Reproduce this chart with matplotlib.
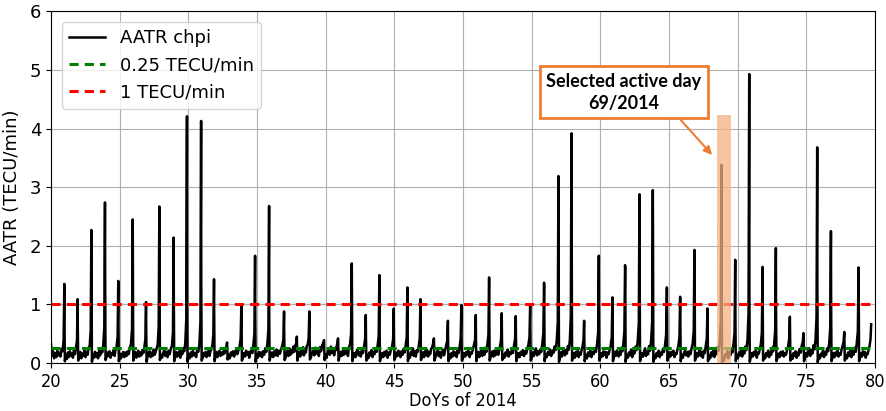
import matplotlib
matplotlib.use("Agg")
import matplotlib.pyplot as plt
from matplotlib import font_manager as fm
from matplotlib.patches import Rectangle
import numpy as np

# Daily AATR peaks (day of year of the peak, peak value, value just after the peak)
peak_doy = [20.97, 21.94, 22.94, 23.93, 24.90, 25.95, 26.92, 27.89, 28.93, 29.90,
            30.93, 31.87, 32.82, 33.86, 34.86, 35.88, 36.97, 37.90, 38.81, 39.88,
            40.90, 41.90, 42.92, 43.91, 44.96, 45.95, 46.90, 47.88, 48.90, 49.88,
            50.93, 51.90, 52.82, 53.84, 54.89, 55.90, 56.95, 57.90, 58.82, 59.89,
            60.88, 61.80, 62.85, 63.82, 64.84, 65.81, 66.85, 67.80, 68.82, 69.82,
            70.84, 71.81, 72.78, 73.80, 74.79, 75.79, 76.79, 77.76, 78.80]
peak_val = [1.35, 1.09, 2.27, 2.74, 1.40, 2.45, 1.04, 2.67, 2.14, 4.21,
            4.13, 1.43, 0.35, 0.99, 1.83, 2.68, 0.88, 0.45, 0.88, 0.39,
            0.42, 1.70, 0.82, 1.50, 0.93, 1.29, 1.09, 0.42, 0.72, 0.99,
            0.82, 1.46, 0.85, 0.80, 0.99, 1.37, 3.19, 3.92, 0.72, 1.83,
            1.12, 1.67, 2.88, 2.95, 1.29, 1.13, 1.93, 0.93, 3.38, 1.76,
            4.93, 1.64, 1.96, 0.79, 0.51, 3.68, 2.25, 0.53, 1.63]
shoulder_val = [0.70, 0.60, 1.30, 1.56, 0.70, 1.64, 0.60, 1.50, 1.20, 1.25,
                1.30, 0.85, 0.25, 0.78, 0.90, 0.73, 0.45, 0.30, 0.75, 0.30,
                0.35, 1.19, 0.50, 0.80, 0.50, 0.70, 0.60, 0.30, 0.40, 0.50,
                0.45, 0.90, 0.50, 0.50, 0.60, 1.30, 1.60, 2.27, 0.45, 1.00,
                0.70, 1.62, 1.50, 2.28, 1.25, 0.80, 1.85, 0.60, 1.20, 0.90,
                1.20, 1.00, 1.00, 0.60, 0.40, 1.30, 1.10, 0.40, 1.30]

# Quiet-time AATR between consecutive peaks (first row: start of the series,
# last row: after the final peak)
quiet_val = [
    [0.33, 0.12, 0.20, 0.08, 0.17, 0.10, 0.21, 0.13, 0.18, 0.11, 0.24, 0.20, 0.40],
    [0.03, 0.14, 0.07, 0.18, 0.10, 0.20, 0.12, 0.16, 0.09, 0.22, 0.15, 0.26, 0.38],
    [0.04, 0.11, 0.19, 0.08, 0.16, 0.12, 0.22, 0.10, 0.19, 0.14, 0.25, 0.29, 0.55],
    [0.02, 0.15, 0.09, 0.19, 0.11, 0.17, 0.08, 0.21, 0.13, 0.24, 0.18, 0.31, 0.60],
    [0.05, 0.10, 0.18, 0.12, 0.20, 0.09, 0.17, 0.14, 0.22, 0.12, 0.23, 0.28, 0.45],
    [0.03, 0.16, 0.08, 0.15, 0.19, 0.10, 0.18, 0.12, 0.20, 0.15, 0.26, 0.32, 0.58],
    [0.04, 0.12, 0.19, 0.09, 0.16, 0.21, 0.11, 0.18, 0.13, 0.22, 0.17, 0.27, 0.40],
    [0.02, 0.11, 0.17, 0.20, 0.10, 0.18, 0.12, 0.23, 0.14, 0.19, 0.25, 0.31, 0.62],
    [0.05, 0.14, 0.09, 0.17, 0.22, 0.12, 0.19, 0.10, 0.21, 0.15, 0.24, 0.29, 0.52],
    [0.03, 0.10, 0.19, 0.11, 0.16, 0.20, 0.09, 0.22, 0.15, 0.25, 0.20, 0.34, 0.75],
    [0.02, 0.15, 0.08, 0.18, 0.11, 0.21, 0.13, 0.17, 0.10, 0.23, 0.19, 0.31, 0.70],
    [0.04, 0.09, 0.17, 0.12, 0.19, 0.10, 0.16, 0.21, 0.12, 0.20, 0.24, 0.30, 0.48],
    [0.03, 0.13, 0.19, 0.10, 0.17, 0.21, 0.12, 0.18, 0.14, 0.20, 0.16, 0.23, 0.28],
    [0.06, 0.14, 0.08, 0.18, 0.13, 0.20, 0.11, 0.19, 0.24, 0.15, 0.22, 0.28, 0.42],
    [0.04, 0.10, 0.17, 0.11, 0.21, 0.14, 0.19, 0.09, 0.18, 0.22, 0.17, 0.31, 0.50],
    [0.02, 0.15, 0.09, 0.19, 0.12, 0.18, 0.10, 0.20, 0.14, 0.25, 0.19, 0.32, 0.58],
    [0.04, 0.13, 0.18, 0.10, 0.20, 0.13, 0.23, 0.12, 0.21, 0.16, 0.24, 0.29, 0.40],
    [0.05, 0.09, 0.16, 0.21, 0.12, 0.25, 0.14, 0.22, 0.17, 0.28, 0.19, 0.30, 0.33],
    [0.04, 0.14, 0.19, 0.11, 0.22, 0.15, 0.27, 0.13, 0.24, 0.18, 0.29, 0.31, 0.42],
    [0.06, 0.10, 0.18, 0.23, 0.13, 0.26, 0.16, 0.24, 0.12, 0.27, 0.20, 0.31, 0.34],
    [0.05, 0.15, 0.09, 0.20, 0.24, 0.14, 0.28, 0.17, 0.25, 0.13, 0.26, 0.22, 0.35],
    [0.04, 0.11, 0.19, 0.12, 0.21, 0.14, 0.25, 0.16, 0.22, 0.12, 0.27, 0.32, 0.50],
    [0.03, 0.12, 0.17, 0.10, 0.20, 0.24, 0.13, 0.18, 0.11, 0.22, 0.17, 0.29, 0.40],
    [0.04, 0.14, 0.08, 0.18, 0.13, 0.22, 0.10, 0.19, 0.15, 0.23, 0.19, 0.30, 0.46],
    [0.03, 0.11, 0.17, 0.10, 0.19, 0.13, 0.21, 0.09, 0.18, 0.14, 0.23, 0.28, 0.40],
    [0.05, 0.09, 0.18, 0.12, 0.21, 0.15, 0.10, 0.20, 0.14, 0.24, 0.18, 0.30, 0.44],
    [0.03, 0.15, 0.09, 0.19, 0.14, 0.25, 0.12, 0.20, 0.11, 0.22, 0.19, 0.29, 0.42],
    [0.05, 0.13, 0.18, 0.10, 0.20, 0.13, 0.22, 0.11, 0.19, 0.15, 0.24, 0.27, 0.34],
    [0.04, 0.10, 0.16, 0.21, 0.12, 0.19, 0.09, 0.17, 0.23, 0.13, 0.21, 0.30, 0.38],
    [0.03, 0.14, 0.08, 0.17, 0.11, 0.20, 0.13, 0.18, 0.10, 0.22, 0.17, 0.28, 0.42],
    [0.04, 0.09, 0.17, 0.11, 0.19, 0.14, 0.21, 0.10, 0.18, 0.16, 0.24, 0.31, 0.40],
    [0.03, 0.13, 0.19, 0.10, 0.18, 0.22, 0.12, 0.20, 0.14, 0.26, 0.19, 0.32, 0.48],
    [0.04, 0.10, 0.16, 0.20, 0.11, 0.21, 0.13, 0.18, 0.25, 0.14, 0.22, 0.29, 0.40],
    [0.05, 0.14, 0.09, 0.18, 0.13, 0.23, 0.11, 0.19, 0.15, 0.21, 0.17, 0.30, 0.40],
    [0.03, 0.11, 0.17, 0.10, 0.19, 0.14, 0.22, 0.12, 0.20, 0.16, 0.24, 0.31, 0.44],
    [0.04, 0.09, 0.18, 0.12, 0.21, 0.25, 0.13, 0.20, 0.15, 0.23, 0.19, 0.33, 0.50],
    [0.03, 0.15, 0.10, 0.19, 0.14, 0.23, 0.12, 0.21, 0.17, 0.28, 0.22, 0.37, 0.70],
    [0.02, 0.11, 0.18, 0.11, 0.20, 0.24, 0.13, 0.22, 0.16, 0.29, 0.23, 0.39, 0.80],
    [0.04, 0.12, 0.17, 0.09, 0.19, 0.13, 0.21, 0.10, 0.18, 0.14, 0.22, 0.28, 0.38],
    [0.03, 0.14, 0.08, 0.18, 0.12, 0.21, 0.10, 0.19, 0.15, 0.25, 0.19, 0.32, 0.52],
    [0.04, 0.10, 0.17, 0.11, 0.20, 0.14, 0.19, 0.09, 0.18, 0.15, 0.23, 0.30, 0.44],
    [0.03, 0.13, 0.19, 0.12, 0.21, 0.16, 0.11, 0.20, 0.14, 0.26, 0.20, 0.34, 0.55],
    [0.02, 0.14, 0.09, 0.18, 0.13, 0.23, 0.10, 0.21, 0.16, 0.28, 0.22, 0.37, 0.68],
    [0.03, 0.10, 0.17, 0.11, 0.20, 0.25, 0.12, 0.19, 0.15, 0.29, 0.21, 0.38, 0.70],
    [0.02, 0.13, 0.08, 0.17, 0.12, 0.21, 0.10, 0.18, 0.14, 0.24, 0.19, 0.31, 0.48],
    [0.04, 0.09, 0.18, 0.11, 0.19, 0.14, 0.21, 0.10, 0.17, 0.15, 0.23, 0.30, 0.44],
    [0.03, 0.14, 0.09, 0.17, 0.21, 0.13, 0.19, 0.11, 0.20, 0.15, 0.25, 0.33, 0.55],
    [0.04, 0.10, 0.17, 0.11, 0.19, 0.23, 0.12, 0.18, 0.09, 0.21, 0.17, 0.29, 0.42],
    [0.03, 0.13, 0.08, 0.18, 0.12, 0.22, 0.10, 0.20, 0.15, 0.27, 0.21, 0.35, 0.72],
    [0.01, 0.09, 0.04, 0.15, 0.11, 0.20, 0.08, 0.19, 0.13, 0.24, 0.18, 0.32, 0.52],
    [0.03, 0.14, 0.08, 0.18, 0.13, 0.23, 0.11, 0.21, 0.16, 0.28, 0.22, 0.39, 0.85],
    [0.02, 0.10, 0.17, 0.11, 0.19, 0.14, 0.21, 0.09, 0.18, 0.16, 0.24, 0.32, 0.52],
    [0.04, 0.13, 0.08, 0.17, 0.12, 0.21, 0.10, 0.19, 0.14, 0.26, 0.20, 0.33, 0.55],
    [0.03, 0.09, 0.16, 0.10, 0.19, 0.13, 0.20, 0.11, 0.17, 0.14, 0.22, 0.28, 0.42],
    [0.04, 0.13, 0.07, 0.17, 0.12, 0.20, 0.09, 0.18, 0.13, 0.24, 0.18, 0.30, 0.36],
    [0.03, 0.10, 0.17, 0.11, 0.20, 0.25, 0.12, 0.22, 0.16, 0.30, 0.23, 0.39, 0.78],
    [0.01, 0.13, 0.08, 0.16, 0.12, 0.21, 0.10, 0.19, 0.14, 0.25, 0.20, 0.34, 0.60],
    [0.03, 0.09, 0.17, 0.10, 0.18, 0.13, 0.21, 0.11, 0.16, 0.14, 0.23, 0.29, 0.36],
    [0.04, 0.13, 0.08, 0.18, 0.12, 0.22, 0.10, 0.20, 0.14, 0.26, 0.19, 0.34, 0.55],
    [0.03, 0.10, 0.17, 0.11, 0.20, 0.14, 0.19, 0.09, 0.17, 0.15, 0.23, 0.29, 0.40],
]
series_start = 20.0
series_end = 79.72
series_end_val = 0.66

thresholds = [0.25, 1.0]
selected_day = [68.53, 69.53]
selected_top = 4.23

# Assemble the time series: quiet stretch, then rise to the peak and drop
t, v = [], []
bounds = [series_start] + peak_doy + [series_end]
for i, row in enumerate(quiet_val):
    t0 = bounds[i] if i == 0 else bounds[i] + 0.04
    t1 = bounds[i + 1] - 0.05
    t.extend(np.linspace(t0, t1, len(row)))
    v.extend(row)
    if i < len(peak_doy):
        t.extend([peak_doy[i], peak_doy[i] + 0.012])
        v.extend([peak_val[i], shoulder_val[i]])
t.append(series_end)
v.append(series_end_val)


def narrow_font(size):
    """Pick an installed condensed/narrow sans face for the x-axis texts."""
    best = None
    for f in fm.fontManager.ttflist:
        name = f.name.lower()
        fname = f.fname.lower()
        narrow = ("narrow" in name or "condensed" in name or "narrow" in fname
                  or "condensed" in fname or str(f.stretch).endswith("condensed"))
        if not narrow or f.style != "normal":
            continue
        w = f.weight if isinstance(f.weight, int) else 400
        if w != 400:
            continue
        rank = 0 if "liberation" in name else (1 if "dejavu" in name else 2)
        if best is None or rank < best[0]:
            best = (rank, f.fname)
    if best is None:
        return fm.FontProperties(family="DejaVu Sans", size=size)
    return fm.FontProperties(fname=best[1], size=size)


fig = plt.figure(figsize=(8.87, 4.11), dpi=100)
ax = fig.add_axes([0.0575, 0.1168, 0.929, 0.8555])

ax.plot(t, v, color="black", lw=1.8, label="AATR chpi", zorder=3)
ax.plot([series_start, series_end], [thresholds[0]] * 2, color="green", lw=2.2,
        dashes=(3, 2), label="0.25 TECU/min", zorder=4)
ax.plot([series_start, series_end], [thresholds[1]] * 2, color="red", lw=2.2,
        dashes=(3, 2), label="1 TECU/min", zorder=4)

ax.add_patch(Rectangle((selected_day[0], 0), selected_day[1] - selected_day[0],
                       selected_top, facecolor="#F4B183", alpha=0.75,
                       edgecolor="none", zorder=5))

ax.annotate("Selected active day\n69/2014", xy=(68.14, 3.55), xytext=(61.7, 4.62),
            ha="center", va="center", fontsize=13, fontweight="bold",
            family=["Lato", "DejaVu Sans"], linespacing=1.35,
            bbox=dict(boxstyle="square,pad=0.35", fc="white", ec="#ED7D31", lw=2),
            arrowprops=dict(arrowstyle="-|>", color="#ED7D31", lw=1.5,
                            mutation_scale=12, relpos=(0.82, 0.0),
                            shrinkA=0, shrinkB=0),
            zorder=6)

ax.set_xlim(20, 80)
ax.set_ylim(0, 6)
ax.set_xticks(np.arange(20, 81, 5))
ax.set_yticks(np.arange(0, 7, 1))
ax.grid(True, color="#b0b0b0", lw=0.8)
ax.set_axisbelow(True)

xfont = narrow_font(13)
ax.tick_params(axis="y", labelsize=13)
for lab in ax.get_xticklabels():
    lab.set_fontproperties(xfont)
ax.set_xlabel("DoYs of 2014", fontproperties=xfont, labelpad=1)
ax.set_ylabel("AATR (TECU/min)", fontsize=13, labelpad=6)

leg = ax.legend(loc="upper left", fontsize=13, framealpha=0.8,
                borderaxespad=0.6)
leg.set_zorder(10)

fig.savefig("out.png", dpi=100)
